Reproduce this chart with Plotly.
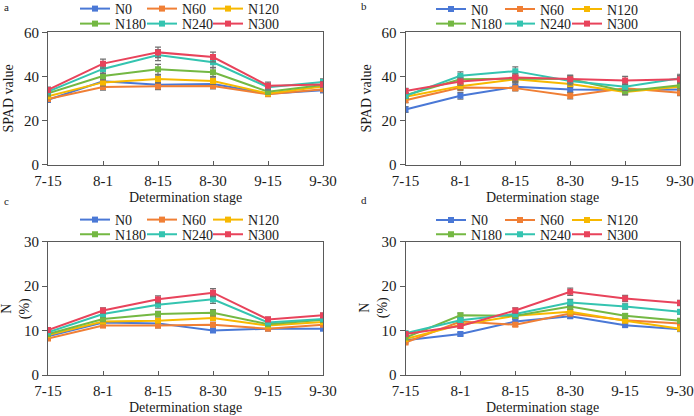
import plotly.graph_objects as go

W, H = 694, 416

stages = ["7-15", "8-1", "8-15", "8-30", "9-15", "9-30"]
series_names = ["N0", "N60", "N120", "N180", "N240", "N300"]
colors = ["#4a78d6", "#f07f35", "#f7b800", "#74b843", "#34c4b0", "#e8435b"]

# Panel a: SPAD value (first stage set)
spad_a = {
    "N0":   [29.4, 37.8, 36.2, 36.6, 32.2, 33.7],
    "N60":  [29.8, 35.2, 35.6, 35.7, 31.9, 34.2],
    "N120": [31.0, 37.3, 38.8, 37.9, 32.3, 35.4],
    "N180": [32.4, 40.2, 43.2, 41.9, 33.1, 36.1],
    "N240": [33.1, 43.4, 49.7, 46.4, 35.1, 37.5],
    "N300": [33.9, 45.8, 50.9, 48.8, 35.8, 36.4],
}
spad_a_err = {
    "N0":   [1.2, 1.5, 1.5, 1.4, 1.0, 1.0],
    "N60":  [1.0, 1.4, 1.6, 1.3, 0.9, 1.0],
    "N120": [1.1, 1.6, 1.8, 1.5, 1.0, 1.1],
    "N180": [1.2, 1.8, 2.3, 2.0, 1.1, 1.2],
    "N240": [1.3, 2.0, 2.5, 2.3, 1.3, 1.4],
    "N300": [1.3, 2.0, 2.4, 2.2, 1.6, 1.3],
}

# Panel b: SPAD value (second set)
spad_b = {
    "N0":   [25.0, 31.2, 35.3, 34.1, 33.8, 34.1],
    "N60":  [29.2, 35.0, 34.7, 31.3, 34.6, 32.6],
    "N120": [30.8, 35.6, 38.7, 36.6, 33.0, 35.3],
    "N180": [31.5, 38.7, 39.0, 38.8, 33.3, 36.0],
    "N240": [31.2, 40.3, 42.4, 37.9, 35.3, 39.2],
    "N300": [33.4, 37.7, 39.5, 38.7, 38.2, 38.7],
}
spad_b_err = {
    "N0":   [1.3, 1.5, 1.6, 1.4, 1.5, 1.4],
    "N60":  [1.1, 1.4, 1.3, 1.5, 1.4, 1.3],
    "N120": [1.1, 1.5, 1.5, 1.5, 1.4, 1.4],
    "N180": [1.2, 1.7, 1.6, 1.8, 1.5, 1.6],
    "N240": [1.2, 1.8, 1.9, 1.7, 1.6, 1.8],
    "N300": [1.2, 1.6, 1.7, 1.7, 1.8, 1.8],
}

# Panel c: N (%) (first set)
n_c = {
    "N0":   [8.7, 11.8, 11.6, 10.0, 10.4, 10.4],
    "N60":  [8.2, 11.1, 11.1, 11.3, 10.4, 11.3],
    "N120": [9.0, 12.0, 12.2, 12.8, 11.1, 11.9],
    "N180": [9.2, 12.6, 13.7, 14.0, 11.4, 12.4],
    "N240": [9.6, 13.7, 15.8, 17.0, 11.8, 12.6],
    "N300": [10.1, 14.5, 17.0, 18.5, 12.5, 13.4],
}
n_c_err = {
    "N0":   [0.4, 0.5, 0.5, 0.4, 0.4, 0.4],
    "N60":  [0.4, 0.4, 0.5, 0.5, 0.4, 0.4],
    "N120": [0.4, 0.5, 0.6, 0.6, 0.4, 0.5],
    "N180": [0.4, 0.6, 0.6, 0.7, 0.5, 0.5],
    "N240": [0.4, 0.6, 0.8, 0.9, 0.5, 0.5],
    "N300": [0.5, 0.6, 0.8, 0.9, 0.5, 0.5],
}

# Panel d: N (%) (second set)
n_d = {
    "N0":   [7.8, 9.2, 12.0, 13.2, 11.2, 10.3],
    "N60":  [7.3, 12.0, 11.3, 13.8, 12.3, 11.6],
    "N120": [8.1, 11.3, 13.3, 14.2, 12.2, 10.4],
    "N180": [8.4, 13.4, 13.3, 15.4, 13.3, 12.2],
    "N240": [9.4, 12.3, 13.7, 16.3, 15.4, 14.2],
    "N300": [9.2, 11.0, 14.5, 18.7, 17.2, 16.2],
}
n_d_err = {
    "N0":   [0.3, 0.4, 0.5, 0.5, 0.4, 0.4],
    "N60":  [0.3, 0.5, 0.4, 0.5, 0.5, 0.4],
    "N120": [0.3, 0.4, 0.5, 0.5, 0.5, 0.4],
    "N180": [0.4, 0.5, 0.5, 0.6, 0.5, 0.5],
    "N240": [0.4, 0.5, 0.6, 0.7, 0.6, 0.5],
    "N300": [0.4, 0.5, 0.6, 0.8, 0.7, 0.6],
}

panels = [
    ("a", spad_a, spad_a_err, [0, 60], [0, 20, 40, 60], "SPAD value"),
    ("b", spad_b, spad_b_err, [0, 60], [0, 20, 40, 60], "SPAD value"),
    ("c", n_c, n_c_err, [0, 30], [0, 10, 20, 30], "N<br>(%)"),
    ("d", n_d, n_d_err, [0, 30], [0, 10, 20, 30], "N<br>(%)"),
]

FONT = "Liberation Serif"
AXC = "#5a5a5a"
TXT = "#1a1a1a"


def px_x(p):
    return p / W


def px_y(p):
    return 1 - p / H


# plot-area boxes in pixels: (left, right, top, bottom)
boxes = [
    (48, 323, 32.3, 164.7),
    (405.5, 680, 32.3, 164.7),
    (48, 323, 241.5, 375),
    (405.5, 680, 241.5, 375),
]
# x pixel of legend text start for the three columns, per panel
legend_cols = [(115, 182, 248), (471, 540, 607), (115, 182, 248), (471, 540, 607)]
legend_rows = [(9, 24), (9.5, 24), (220, 234.7), (220.3, 234.7)]
LEG_DY = 0.0
ytitle_x = [8, 366, 16, 374]
xtitle_y = [197, 197, 407, 407]
label_pos = [(2, 7), (359, 6), (2, 200.5), (359, 199.5)]

fig = go.Figure()
layout = dict(
    width=W, height=H,
    margin=dict(l=0, r=0, t=0, b=0, autoexpand=False),
    paper_bgcolor="white", plot_bgcolor="white",
    font=dict(family=FONT, size=14, color=TXT),
    showlegend=True,
)
annotations = []

for i, (lab, data, err, yr, yt, ytitle) in enumerate(panels):
    k = "" if i == 0 else str(i + 1)
    xa, ya = "x" + k, "y" + k
    l, r, t, b = boxes[i]
    for j, name in enumerate(series_names):
        idx = i * 6 + j + 1
        lg = "legend" if idx == 1 else "legend" + str(idx)
        fig.add_trace(go.Scatter(
            x=stages, y=data[name], name=name, mode="lines+markers",
            xaxis=xa, yaxis=ya,
            line=dict(color=colors[j], width=2),
            marker=dict(symbol="square", size=6, color=colors[j]),
            error_y=dict(type="data", array=err[name], color="#707070",
                         thickness=1.2, width=3),
            legend=lg,
        ))
        col, row = j % 3, j // 3
        layout[lg] = dict(
            orientation="h", x=px_x(legend_cols[i][col] - 40), xanchor="left",
            y=px_y(legend_rows[i][row] + LEG_DY), yanchor="middle",
            bgcolor="rgba(0,0,0,0)", borderwidth=0,
            font=dict(size=14, family=FONT, color=TXT),
            itemclick=False, itemdoubleclick=False,
        )
    layout["xaxis" + k] = dict(
        domain=[px_x(l), px_x(r)], anchor=ya,
        type="category", categoryorder="array", categoryarray=stages,
        range=[0, 5], showline=True, mirror=True, linecolor=AXC, linewidth=1,
        ticks="inside", ticklen=4, tickcolor=AXC, showgrid=False, zeroline=False,
        ticklabelstandoff=2,
        tickfont=dict(size=15, family=FONT, color=TXT), automargin=False,
    )
    layout["yaxis" + k] = dict(
        domain=[px_y(b), px_y(t)], anchor=xa,
        range=yr, tickvals=yt, showline=True, mirror=True, linecolor=AXC,
        linewidth=1, ticks="outside", ticklen=5, tickcolor=AXC,
        showgrid=False, zeroline=False,
        tickfont=dict(size=15, family=FONT, color=TXT), automargin=False,
    )
    annotations.append(dict(
        text=ytitle, x=px_x(ytitle_x[i]), y=px_y((t + b) / 2),
        xref="paper", yref="paper", xanchor="center", yanchor="middle",
        textangle=-90, showarrow=False, font=dict(size=14, family=FONT, color=TXT),
    ))
    annotations.append(dict(
        text="Determination stage", x=px_x((l + r) / 2), y=px_y(xtitle_y[i]),
        xref="paper", yref="paper", xanchor="center", yanchor="middle",
        showarrow=False, font=dict(size=14, family=FONT, color=TXT),
    ))
    annotations.append(dict(
        text=lab, x=px_x(label_pos[i][0]), y=px_y(label_pos[i][1]),
        xref="paper", yref="paper", xanchor="left", yanchor="middle",
        showarrow=False, font=dict(size=11, family=FONT, color=TXT),
    ))

layout["annotations"] = annotations
fig.update_layout(**layout)
fig.write_html("out.html")
